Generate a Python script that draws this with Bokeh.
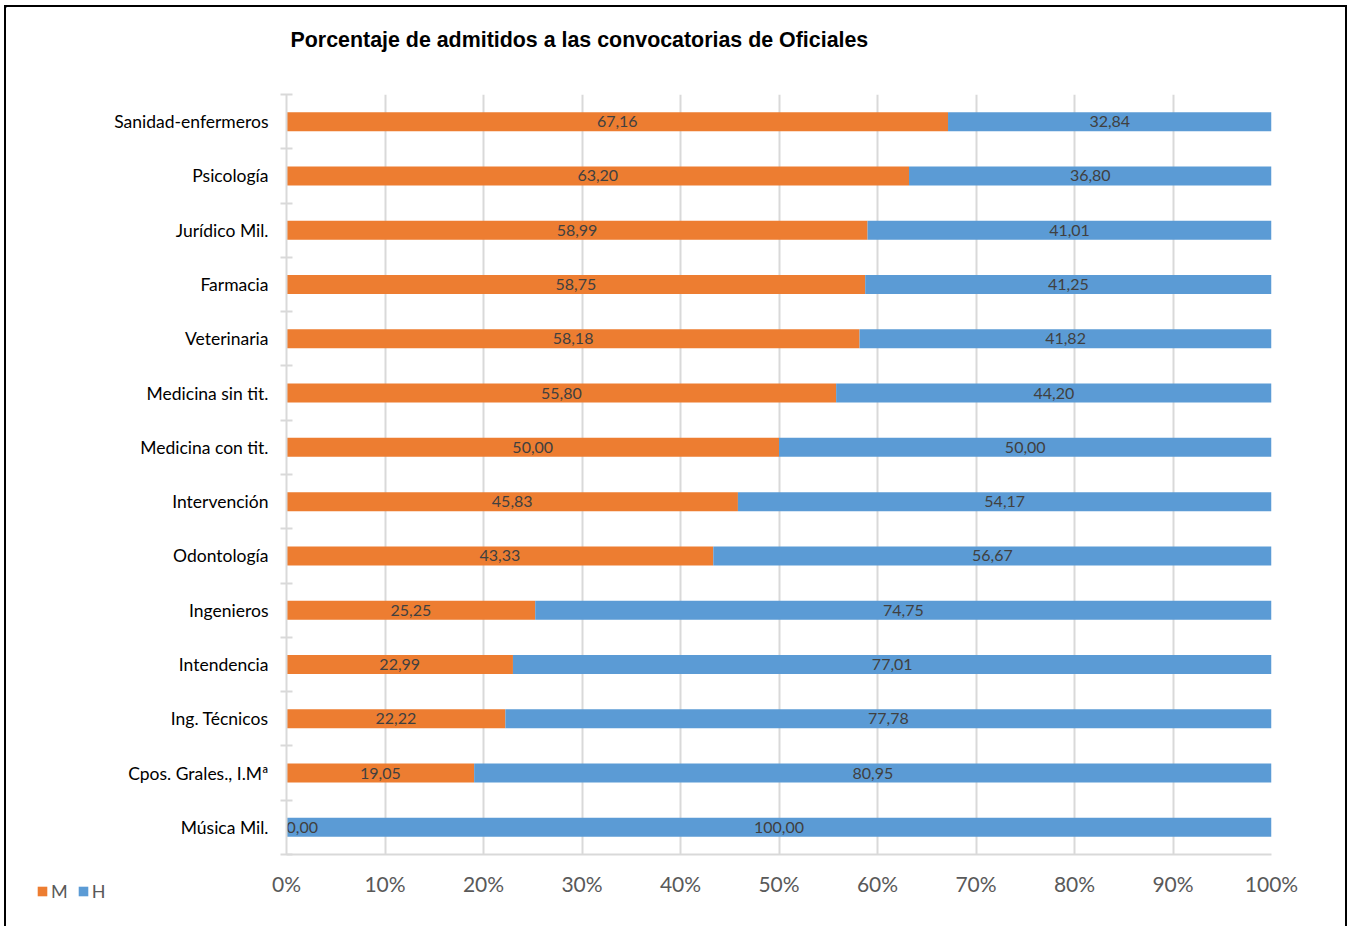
from bokeh.plotting import figure
from bokeh.layouts import row
from bokeh.models import ColumnDataSource, FixedTicker, Legend, LegendItem, Range1d, Title
from bokeh.embed import file_html
from bokeh.resources import INLINE
from bokeh.core.properties import value

categories = ["Sanidad-enfermeros", "Psicología", "Jurídico Mil.", "Farmacia", "Veterinaria",
              "Medicina sin tit.", "Medicina con tit.", "Intervención", "Odontología",
              "Ingenieros", "Intendencia", "Ing. Técnicos", "Cpos. Grales., I.Mª", "Música Mil."]
m_values = [67.16, 63.20, 58.99, 58.75, 58.18, 55.80, 50.00, 45.83, 43.33, 25.25, 22.99, 22.22, 19.05, 0.00]
h_values = [32.84, 36.80, 41.01, 41.25, 41.82, 44.20, 50.00, 54.17, 56.67, 74.75, 77.01, 77.78, 80.95, 100.00]
x_ticks = [0, 10, 20, 30, 40, 50, 60, 70, 80, 90, 100]
x_tick_labels = ["0%", "10%", "20%", "30%", "40%", "50%", "60%", "70%", "80%", "90%", "100%"]
series_names = ["M", "H"]
title_text = "Porcentaje de admitidos a las convocatorias de Oficiales"

ORANGE = "#ED7D31"
BLUE = "#5B9BD5"
GRID = "#D9D9D9"
FONT = "Lato"

n = len(categories)
ypos = [n - 0.5 - i for i in range(n)]

def fmt(v):
    return f"{v:.2f}".replace(".", ",")

src = ColumnDataSource(dict(
    y=ypos, cat=categories, m=m_values, h=h_values,
    m_end=m_values,
    h_end=[a + b for a, b in zip(m_values, h_values)],
    m_mid=[a / 2 for a in m_values],
    h_mid=[a + b / 2 for a, b in zip(m_values, h_values)],
    m_lab=[fmt(v) for v in m_values],
    h_lab=[fmt(v) for v in h_values],
    m_align=["left" if v == 0 else "center" for v in m_values],
))

H = 919
p = figure(width=1239, height=H, output_backend="svg", toolbar_location=None,
           x_range=Range1d(0, 100), y_range=Range1d(0, n), title_location=None,
           min_border_left=180, min_border_right=74, min_border_bottom=72, min_border_top=87)
p.frame_align = False

# spacer between the title and the frame, then the title itself
p.add_layout(Title(text=" ", text_font_size="1px", standoff=40), "above")
p.add_layout(Title(text=title_text, text_font="Liberation Sans", text_font_style="bold",
                   text_font_size="21.4px", text_color="#000000", align="left", offset=4,
                   standoff=0), "above")

p.outline_line_color = None
p.background_fill_color = "white"
p.border_fill_color = "white"

rm = p.hbar(y="y", left=0, right="m_end", height=0.35, source=src, fill_color=ORANGE, line_color=None)
rh = p.hbar(y="y", left="m_end", right="h_end", height=0.35, source=src, fill_color=BLUE, line_color=None)

p.text(x="m_mid", y="y", text="m_lab", source=src, text_align="m_align", text_baseline="middle",
       text_font=value(FONT), text_font_size="16px", text_color="#404040")
p.text(x="h_mid", y="y", text="h_lab", source=src, text_align="center", text_baseline="middle",
       text_font=value(FONT), text_font_size="16px", text_color="#404040")

# x axis
p.xaxis.ticker = FixedTicker(ticks=x_ticks, minor_ticks=[])
p.xaxis.major_label_overrides = {t: l for t, l in zip(x_ticks, x_tick_labels)}
p.xaxis.major_tick_line_color = None
p.xaxis.minor_tick_line_color = None
p.xaxis.axis_line_color = GRID
p.xaxis.axis_line_width = 2
p.xaxis.major_label_text_font = FONT
p.xaxis.major_label_text_font_size = "21px"
p.xaxis.major_label_text_color = "#595959"
p.xaxis.major_label_standoff = 10

# y axis
p.yaxis.ticker = FixedTicker(ticks=ypos, minor_ticks=list(range(n + 1)))
p.yaxis.major_label_overrides = {y: c for y, c in zip(ypos, categories)}
p.yaxis.major_tick_line_color = None
p.yaxis.minor_tick_line_color = GRID
p.yaxis.minor_tick_line_width = 2
p.yaxis.minor_tick_in = 6
p.yaxis.minor_tick_out = 6
p.yaxis.axis_line_color = GRID
p.yaxis.axis_line_width = 2
p.yaxis.major_label_text_font = FONT
p.yaxis.major_label_text_font_size = "17.5px"
p.yaxis.major_label_text_color = "#000000"
p.yaxis.major_label_standoff = 12

p.xgrid.grid_line_color = GRID
p.xgrid.grid_line_width = 2
p.ygrid.grid_line_color = None

# legend panel on the left (its ranges keep the series out of view; only the legend shows)
lf = figure(width=100, height=H, output_backend="svg", toolbar_location=None,
            x_axis_type=None, y_axis_type=None, x_range=Range1d(1000, 1001),
            y_range=Range1d(-1000, -999), min_border=0)
lf.frame_align = False
lf.outline_line_color = None
lf.grid.grid_line_color = None
lf.background_fill_color = "white"
lf.border_fill_color = "white"
lm = lf.hbar(y="y", left=0, right="m_end", height=0.35, source=src, fill_color=ORANGE, line_color=None)
lh = lf.hbar(y="y", left="m_end", right="h_end", height=0.35, source=src, fill_color=BLUE, line_color=None)
legend = Legend(items=[LegendItem(label=series_names[0], renderers=[lm]),
                       LegendItem(label=series_names[1], renderers=[lh])],
                orientation="horizontal", location=(30, 24),
                glyph_width=12, glyph_height=12, label_standoff=3, spacing=9, padding=0, margin=0,
                label_text_font=FONT, label_text_font_size="18px", label_text_color="#595959",
                label_width=0, label_height=20, border_line_color=None, background_fill_alpha=0)
lf.add_layout(legend, "center")

layout = row(lf, p, styles={"border-top": "2px solid #000000", "border-left": "2px solid #000000",
                            "border-right": "2px solid #000000", "margin-left": "4px",
                            "margin-top": "5px", "background-color": "white"})

open("out.html", "w").write(file_html(layout, INLINE))
